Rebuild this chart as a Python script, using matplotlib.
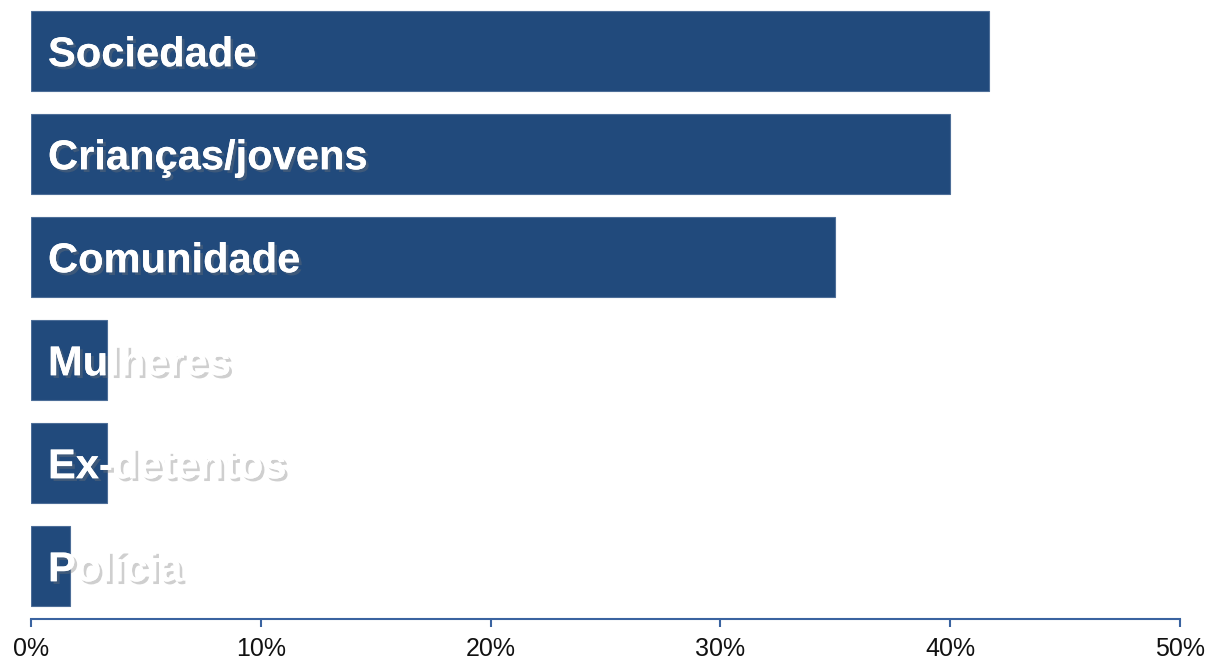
import matplotlib
matplotlib.use("Agg")
import matplotlib.pyplot as plt
import matplotlib.patheffects as pe
from matplotlib.ticker import FuncFormatter

# Share of mentions per beneficiary group (%)
categories = ["Sociedade", "Crianças/jovens", "Comunidade", "Mulheres", "Ex-detentos", "Polícia"]
values = [41.7, 40.0, 35.0, 3.3, 3.3, 1.7]
xticks = [0, 10, 20, 30, 40, 50]

bar_color = "#214A7C"
axis_color = "#3A63A0"

plt.rcParams["font.family"] = ["Liberation Sans", "DejaVu Sans"]

W, H = 1209, 661
fig = plt.figure(figsize=(W / 100, H / 100), dpi=100)
ax = fig.add_axes([31 / W, (H - 619) / H, (1180 - 31) / W, 619 / H])

n = len(categories)
ypos = list(range(n - 1, -1, -1))
ax.barh(ypos, values, height=80 / 103, color=bar_color,
        edgecolor="#4D6E98", linewidth=0.8)

shadow = [pe.withSimplePatchShadow(offset=(2, -2), shadow_rgbFace="#777777", alpha=0.35),
          pe.Normal()]
# place capitals centred on each bar: baseline sits half a cap height below the centre
for y, label in zip(ypos, categories):
    ax.text(17 / 229.8 * 10, y - 0.148, label, color="white", fontsize=30, fontweight="bold",
            va="baseline", ha="left", path_effects=shadow)

ax.set_xlim(0, 50)
ax.set_ylim(-53 / 103, n - 1 + 51 / 103)
ax.set_xticks(xticks)
ax.xaxis.set_major_formatter(FuncFormatter(lambda v, p: f"{v:.0f}%"))
ax.set_yticks([])
for side in ("top", "right", "left"):
    ax.spines[side].set_visible(False)
ax.spines["bottom"].set_color(axis_color)
ax.spines["bottom"].set_linewidth(1.5)
ax.tick_params(axis="x", direction="out", length=6, width=1.5, color=axis_color,
               labelsize=18, labelcolor="#111111", pad=7)

fig.savefig("out.png", dpi=100)
